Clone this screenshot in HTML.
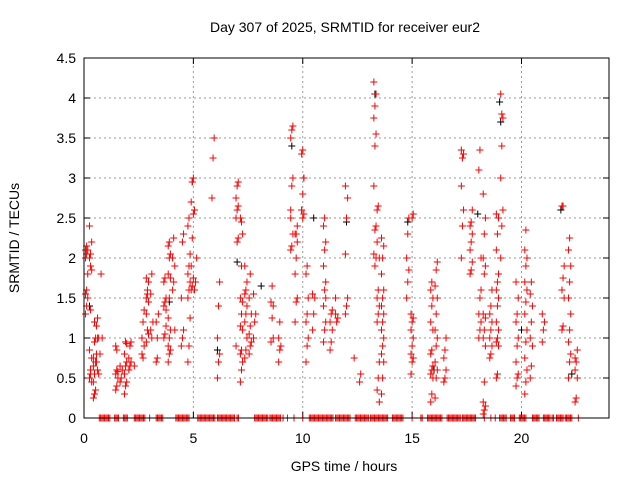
<!DOCTYPE html>
<html><head><meta charset="utf-8"><style>
body{margin:0;background:#fff;}
svg{display:block;font-family:"Liberation Sans",sans-serif;}
</style></head><body>
<svg id="chart" width="640" height="480" xmlns="http://www.w3.org/2000/svg">
<rect width="640" height="480" fill="#fff"/>
<text x="345" y="32" font-size="14" text-anchor="middle">Day 307 of 2025, SRMTID for receiver eur2</text>
<text x="344" y="471" font-size="14" text-anchor="middle">GPS time / hours</text>
<text transform="translate(19,238) rotate(-90)" font-size="14" text-anchor="middle">SRMTID / TECUs</text>
<g id="grid"></g>
<g id="ticks"></g>
<g id="black"></g>
<g id="red"></g>
<rect x="84" y="58" width="525" height="360" fill="none" stroke="#000" stroke-width="1"/>
</svg>
<script>
const xTicks=[0,5,10,15,20];
const yTicks=[0,0.5,1,1.5,2,2.5,3,3.5,4,4.5];
const yTickLabels=["0","0.5","1","1.5","2","2.5","3","3.5","4","4.5"];
const redClusters=[
[0.12,[1.3,1.4,1.5,1.55,1.6,1.8,2.0,2.05,2.1,2.1,2.15]],
[0.3,[0.5,0.55,0.45,0.5,0.6,0.75,0.85,2.05,2.2,2.4,1.9,1.85,2.0,1.35]],
[0.48,[0.25,0.3,0.35,0.45,0.55,0.7,0.75,1.2,1.0,0.65,0.95]],
[0.62,[1.15,1.25,1.0,0.8,0.6,0.55,0.7,1.0]],
[0.78,[0.8,1.8,1.0]],
[1.5,[0.35,0.4,0.5,0.55,0.6,0.58,0.9,0.85]],
[1.7,[0.45,0.5,0.6,0.65]],
[1.9,[0.3,0.4,0.45,0.55,0.65,0.7,0.8,0.95,0.93]],
[2.1,[0.6,0.65,0.7,0.75,0.9,0.95]],
[2.35,[0.65]],
[2.7,[0.8,0.75,0.9,1.0,1.2,1.35]],
[2.9,[1.5,1.6,1.7,1.75,1.55,1.45,1.3,1.1,1.05,0.95]],
[3.1,[1.1,1.0,1.2,1.55,1.8]],
[3.35,[0.7,0.75,1.3,1.2,1.0]],
[3.7,[1.0,1.05,1.15,1.4,1.45,1.5,1.7,1.75,1.35]],
[3.9,[0.7,0.8,0.85,0.9,1.0,1.1,1.25,1.5,1.75,1.8,2.0,2.05,2.15,2.2]],
[4.1,[1.6,1.7,1.9,2.0,2.25,1.1]],
[4.5,[0.9,1.0,1.1,1.5,2.2,2.3]],
[4.8,[0.7,0.9,1.25,1.5,1.6,1.7,1.8,1.9,2.05,2.4,2.5]],
[4.95,[1.6,1.65,1.75,1.9,2.25,2.55,2.7,2.95,3.0]],
[5.1,[1.6,1.7,2.0,2.6]],
[5.9,[2.75,3.25,3.5]],
[6.15,[0.5,0.7,0.8,1.0,1.4,1.7]],
[7.0,[0.9,2.2,2.25,2.5,2.6,2.65,2.75,2.9,2.95]],
[7.2,[0.45,0.6,0.7,0.8,0.85,1.1,1.15,1.3,1.45,1.5,1.9,2.3,2.5,2.45]],
[7.4,[0.75,0.85,1.0,1.2,1.3,1.4,1.55,1.6,1.7,1.9]],
[7.6,[0.8,0.9,0.95,1.05,1.15,1.3,1.5,1.8]],
[7.8,[1.0,1.2,1.3,1.55]],
[8.6,[0.95,1.25,1.4,1.45,1.65,1.0]],
[8.95,[0.7,0.85,0.9,1.0,1.2]],
[9.5,[2.1,2.15,2.3,2.6,2.9,3.0,3.5,3.6,3.65,2.5]],
[9.7,[1.2,1.45,1.5,1.8,2.0,2.2,2.3,2.3,2.4]],
[10.0,[3.3,3.35,3.0,2.6,2.5,2.55,2.6,2.8,3.0]],
[10.2,[0.7,0.9,1.0,1.2,1.3,1.5,1.8,1.9]],
[10.5,[1.1,1.3,1.5,1.55]],
[11.0,[0.95,1.1,1.2,1.4,1.6,1.7,1.9,2.1,2.2,2.4,2.5,1.5]],
[11.3,[0.85,0.95,1.1,1.2,1.3,1.35]],
[11.55,[1.5,1.2,1.25,1.3]],
[12.0,[1.3,1.4,1.5,2.05,2.5,2.75,2.9]],
[12.4,[0.75]],
[12.65,[0.45,0.55]],
[13.3,[2.05,2.35,2.4,2.9,3.4,3.55,3.75,3.9,4.05,4.2,1.9,2.0]],
[13.45,[2.6,2.65,0.2,0.35,0.5,0.7,1.2,1.3,1.4,1.5,1.6,2.0,2.2]],
[13.65,[0.3,0.5,0.7,0.8,0.9,1.0,1.1,1.2,1.3,1.4,1.5,1.6,1.8,2.0,2.15,2.25]],
[14.8,[1.5,1.7,1.85,2.0,2.3,2.5]],
[15.0,[0.55,0.7,0.75,0.8,0.9,1.0,1.1,1.2,1.25,1.3,2.5,2.55]],
[15.9,[0.2,0.3,0.5,0.55,0.6,0.65,0.8,0.85,1.1,1.2,1.4,1.5,1.6,1.7]],
[16.1,[0.25,0.5,0.6,0.7,0.9,1.0,1.1,1.3,1.5,1.65,1.85,1.95]],
[16.5,[0.45,0.5,0.6,0.75,0.85,1.0]],
[17.3,[2.0,2.4,2.6,2.9,3.25,3.3,3.35]],
[17.7,[1.8,1.85,1.95,2.1,2.2,2.3,2.4,2.45,2.6]],
[18.1,[3.1,3.35,2.0,1.0,1.1,1.2,1.3,1.5,1.6]],
[18.3,[0.05,0.1,0.15,0.2,0.45,0.9,1.0,1.1,1.25,1.3,1.8,1.9,2.0,2.3,2.5,2.8]],
[18.6,[0.75,0.8,0.9,1.0,1.1,1.2,1.3,1.4,1.6]],
[18.9,[0.5,0.55,0.9,0.95,1.0,1.1,1.2,1.4,1.5,1.6,1.7,1.8,2.1,2.3,2.5,2.55]],
[19.1,[2.0,2.4,2.6,3.0,3.4,3.75,4.05,3.8]],
[19.8,[0.4,0.5,0.55,0.7,0.9,1.0,1.2,1.3,1.5,1.7]],
[20.2,[0.3,0.45,0.6,0.75,0.95,1.1,1.3,1.45,1.6,1.7,1.9,2.0,2.1,2.35]],
[20.45,[0.5,0.65,0.9,1.0,1.2,1.4,1.55,1.7]],
[21.0,[0.95,1.1,1.2,1.3]],
[21.9,[1.1,1.15,1.5,1.6,1.75,1.9,2.65,2.65]],
[22.2,[0.5,0.7,0.8,0.95,1.1,1.3,1.5,1.7,1.9,2.1,2.25]],
[22.5,[0.2,0.25,0.5,0.6,0.7,0.85,0.75]]
];
const zeroRanges=[[0.7,1.2],[1.4,1.6],[1.8,2.0],[2.3,2.8],[3.0,3.05],[3.3,3.6],[4.2,4.8],[5.2,6.0],[6.1,6.9],[7.0,7.1],[7.8,8.4],[8.5,9.0],[9.1,9.15],[9.3,9.35],[9.6,9.65],[10.0,10.05],[10.3,11.4],[11.5,12.2],[12.4,13.0],[13.1,13.9],[14.1,14.6],[15.0,15.05],[15.4,15.5],[15.7,16.4],[16.6,17.2],[17.3,17.9],[18.3,18.35],[18.6,18.65],[18.8,18.85],[19.0,19.3],[19.5,19.7],[19.9,20.2],[20.5,20.8],[21.0,21.3],[21.4,21.5],[21.6,21.9],[22.0,22.3],[22.6,22.65]];
const blackT=[13.3,19.0,19.05,4.95,9.5,8.1,12.0,18.0,21.8,10.5,14.8,7.0,0.25,20.0,6.1,3.9,16.0,22.3];
const blackV=[4.05,3.95,3.7,2.95,3.4,1.65,2.45,2.55,2.6,2.5,2.45,1.95,1.4,1.1,0.85,1.45,0.6,0.55];

const X0=84,X1=609,Y0=418,Y1=58;
const xs=h=>X0+(h/24)*(X1-X0);
const ys=v=>Y0-(v/4.5)*(Y0-Y1);
const NS="http://www.w3.org/2000/svg";
function mk(tag,attrs,parent){const e=document.createElementNS(NS,tag);for(const k in attrs)e.setAttribute(k,attrs[k]);parent.appendChild(e);return e;}
const grid=document.getElementById('grid'),ticks=document.getElementById('ticks');
yTicks.forEach((v,i)=>{const y=ys(v);
 if(v>0&&v<4.5){const l=mk('line',{x1:X0,x2:X1,y1:y,y2:y,stroke:'#999','stroke-dasharray':'2,3','stroke-width':1},grid);
 
 }
 mk('line',{x1:X0,x2:X0+6,y1:y,y2:y,stroke:'#000'},ticks);
 mk('line',{x1:X1,x2:X1-6,y1:y,y2:y,stroke:'#000'},ticks);
 const t=mk('text',{x:X0-8,y:y+5,'font-size':14,'text-anchor':'end'},ticks);t.textContent=yTickLabels[i];
 
 
});
xTicks.forEach(h=>{const x=xs(h);
 if(h>0){const l=mk('line',{x1:x,x2:x,y1:Y0,y2:Y1,stroke:'#999','stroke-dasharray':'2,3'},grid);
 
 }
 mk('line',{x1:x,x2:x,y1:Y0,y2:Y0-6,stroke:'#000'},ticks);
 mk('line',{x1:x,x2:x,y1:Y1,y2:Y1+6,stroke:'#000'},ticks);
 const t=mk('text',{x:x,y:Y0+25,'font-size':14,'text-anchor':'middle'},ticks);t.textContent=String(h);
 
 
});
function cross(g,h,v,color,name){const x=xs(h),y=ys(v);
 const p=mk('path',{d:`M${x-3.5},${y}H${x+3.5}M${x},${y-3.5}V${y+3.5}`,stroke:color,'stroke-width':1,fill:'none'},g);
 
 }
const black=document.getElementById('black'),red=document.getElementById('red');
blackT.forEach((h,i)=>cross(black,h,blackV[i],'#000','black-point'));
redClusters.forEach(([h,vals])=>vals.forEach((v,j)=>cross(red,h+((j%3)-1)*0.05,v,'#f00','red-point')));
zeroRanges.forEach(([a,b])=>{for(let h=a;h<=b+1e-9;h+=0.06)cross(red,h,0,'#f00','zero-point');});
</script>
</body></html>
